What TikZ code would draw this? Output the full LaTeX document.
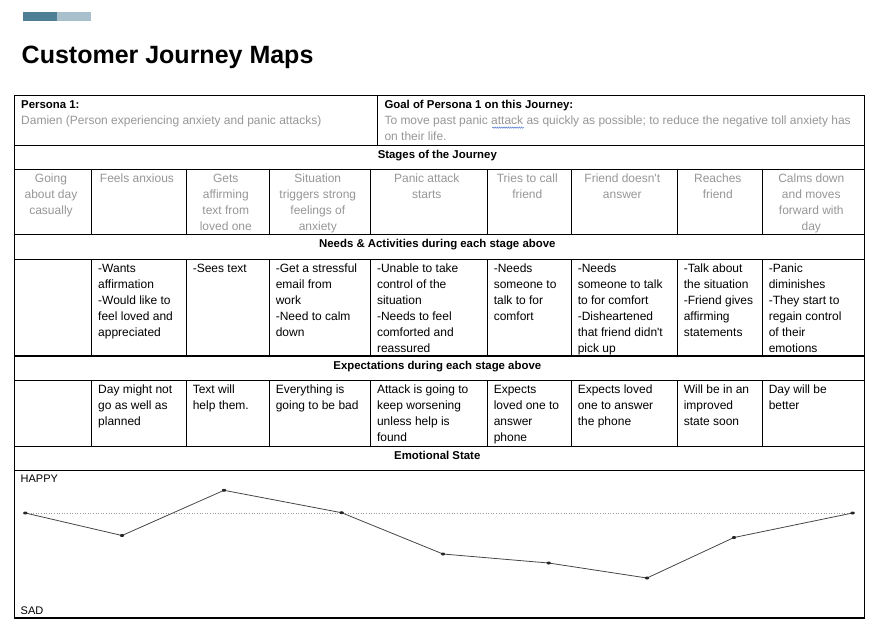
\documentclass[tikz,border=0pt]{standalone}
\usepackage{fontspec}
\setmainfont{Liberation Sans}
\usetikzlibrary{decorations.pathmorphing}
\definecolor{txtgray}{RGB}{150,150,150}
\definecolor{bardark}{RGB}{79,127,150}
\definecolor{barlight}{RGB}{168,192,204}
\definecolor{squigblue}{RGB}{80,120,210}
\definecolor{linegray}{RGB}{70,70,70}
\newcommand\cellfont{\fontsize{12}{16}\selectfont}
\newcommand\hdfont{\fontsize{11.4}{16}\selectfont\bfseries}
\newcommand\lcell[1]{\parbox[t]{200pt}{\cellfont\raggedright #1}}
\newcommand\ccell[1]{\parbox[t]{120pt}{\cellfont\centering #1}}
\tikzset{
  gridline/.style={line width=1.1pt, draw=black},
  lt/.style={anchor=base west, inner sep=0pt, text=black},
  gt/.style={anchor=base west, inner sep=0pt, text=txtgray},
  st/.style={anchor=base, inner sep=0pt, text=txtgray},
  hd/.style={anchor=base, inner sep=0pt, font=\hdfont},
  emoline/.style={draw=linegray, line width=0.8pt},
  refline/.style={draw=black!40, line width=0.6pt, dotted},
}
\begin{document}
\begin{tikzpicture}[x=1pt,y=-1pt]
\useasboundingbox (0,0) rectangle (883,641);
% decoration bar
\fill[bardark] (23,12.3) rectangle (57,20.7);
\fill[barlight] (57,12.3) rectangle (91,20.7);
\node[anchor=base west, inner sep=0pt, font=\fontsize{25}{30}\selectfont\bfseries] (title) at (21.5,63.3) {Customer Journey Maps};
% table grid
\draw[gridline] (14.3,95.7) rectangle (864.3,618);
\foreach \yy in {145.3,169.3,234.3,259.3,356,380.7,446.3,470.3}
  \draw[gridline] (14.3,\yy) -- (864.3,\yy);
\draw[gridline] (377.7,95.7) -- (377.7,145.3);
\foreach \xx in {91.7,186.3,269.3,370.3,487.3,571.3,677.3,762.3}{
  \draw[gridline] (\xx,169.3) -- (\xx,234.3);
  \draw[gridline] (\xx,259.3) -- (\xx,356);
  \draw[gridline] (\xx,380.7) -- (\xx,446.3);
}
% persona row
\node[lt] (p1) at (21,108.3) {\parbox[t]{350pt}{\hdfont Persona 1:\\\mdseries\cellfont\color{txtgray}Damien (Person experiencing anxiety and panic attacks)}};
\node[lt] (g1) at (384.3,108.3) {\parbox[t]{480pt}{\hdfont Goal of Persona 1 on this Journey:\\\mdseries\cellfont\color{txtgray}To move past panic attack as quickly as possible; to reduce the negative toll anxiety has\\on their life.}};
\draw[squigblue, line width=0.5pt, decorate, decoration={snake, amplitude=0.7pt, segment length=2.2pt}] (492.3,127.6) -- (524,127.6);
% headers
\node[hd] (h1) at (437.3,158.3) {Stages of the Journey};
\node[hd] (h2) at (437.3,247.3) {Needs \& Activities during each stage above};
\node[hd] (h3) at (437.3,369) {Expectations during each stage above};
\node[hd] (h4) at (437.3,459.3) {Emotional State};
% stages
\node[st] (s1) at (51,182.8) {\ccell{Going\\about day\\casually}};
\node[st] (s2) at (137,182.8) {\ccell{Feels anxious}};
\node[st] (s3) at (225.8,182.8) {\ccell{Gets\\affirming\\text from\\loved one}};
\node[st] (s4) at (317.8,182.8) {\ccell{Situation\\triggers strong\\feelings of\\anxiety}};
\node[st] (s5) at (426.8,182.8) {\ccell{Panic attack\\starts}};
\node[st] (s6) at (527.3,182.8) {\ccell{Tries to call\\friend}};
\node[st] (s7) at (622.3,182.8) {\ccell{Friend doesn\textquotesingle t\\answer}};
\node[st] (s8) at (717.8,182.8) {\ccell{Reaches\\friend}};
\node[st] (s9) at (811.3,182.8) {\ccell{Calms down\\and moves\\forward with\\day}};
% needs
\node[lt] (n2) at (98,272.3) {\lcell{-Wants\\affirmation\\-Would like to\\feel loved and\\appreciated}};
\node[lt] (n3) at (192.6,272.3) {\lcell{-Sees text}};
\node[lt] (n4) at (275.6,272.3) {\lcell{-Get a stressful\\email from\\work\\-Need to calm\\down}};
\node[lt] (n5) at (376.8,272.3) {\lcell{-Unable to take\\control of the\\situation\\-Needs to feel\\comforted and\\reassured}};
\node[lt] (n6) at (493.6,272.3) {\lcell{-Needs\\someone to\\talk to for\\comfort}};
\node[lt] (n7) at (577.6,272.3) {\lcell{-Needs\\someone to talk\\to for comfort\\-Disheartened\\that friend didn\textquotesingle t\\pick up}};
\node[lt] (n8) at (683.6,272.3) {\lcell{-Talk about\\the situation\\-Friend gives\\affirming\\statements}};
\node[lt] (n9) at (768.6,272.3) {\lcell{-Panic\\diminishes\\-They start to\\regain control\\of their\\emotions}};
% expectations
\node[lt] (x2) at (98,393.7) {\lcell{Day might not\\go as well as\\planned}};
\node[lt] (x3) at (192.6,393.7) {\lcell{Text will\\help them.}};
\node[lt] (x4) at (275.6,393.7) {\lcell{Everything is\\going to be bad}};
\node[lt] (x5) at (376.8,393.7) {\lcell{Attack is going to\\keep worsening\\unless help is\\found}};
\node[lt] (x6) at (493.6,393.7) {\lcell{Expects\\loved one to\\answer\\phone}};
\node[lt] (x7) at (577.6,393.7) {\lcell{Expects loved\\one to answer\\the phone}};
\node[lt] (x8) at (683.6,393.7) {\lcell{Will be in an\\improved\\state soon}};
\node[lt] (x9) at (768.6,393.7) {\lcell{Day will be\\better}};
% emotional chart
\node[anchor=base west, inner sep=0pt, font=\fontsize{11}{13}\selectfont] (happy) at (20.5,482.5) {HAPPY};
\node[anchor=base west, inner sep=0pt, font=\fontsize{11}{13}\selectfont] (sad) at (20.5,614) {SAD};
\coordinate (e1) at (25.3,513);
\coordinate (e2) at (122,535.5);
\coordinate (e3) at (224,490.3);
\coordinate (e4) at (341.6,512.7);
\coordinate (e5) at (443,554);
\coordinate (e6) at (548.7,563);
\coordinate (e7) at (647,578);
\coordinate (e8) at (734,537.5);
\coordinate (e9) at (852.6,513);
\draw[refline] (e1) -- (e9);
\draw[emoline] (e1) -- (e2) -- (e3) -- (e4) -- (e5) -- (e6) -- (e7) -- (e8) -- (e9);
\foreach \p in {e1,e2,e3,e4,e5,e6,e7,e8,e9}
  \fill[black!85] (\p) ellipse (2.2pt and 1.5pt);
\end{tikzpicture}
\end{document}
